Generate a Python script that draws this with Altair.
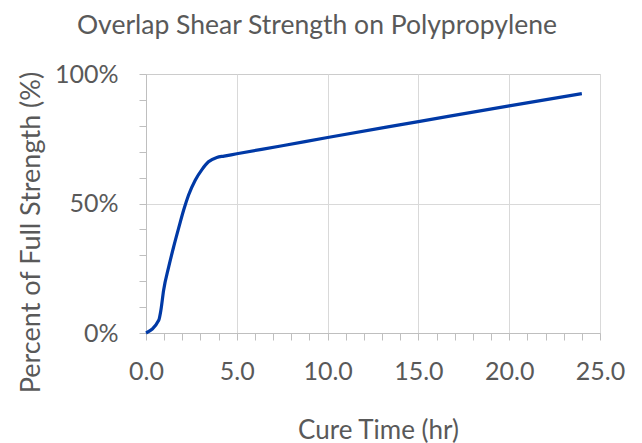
import altair as alt
import pandas as pd

# Data
hours = [0, 0.7, 0.82, 0.97, 1.25, 1.52, 1.79, 2.07, 2.34, 2.71, 3.08, 3.44, 3.9, 4.3, 5, 7.5, 10, 15, 20, 24]
strength = [0, 4.9, 8.8, 16.5, 25.5, 33.2, 40.3, 47.4, 53.2, 59.0, 63.1, 66.1, 67.8, 68.3, 69.2, 72.3, 75.5, 81.6, 87.7, 92.4]

x_tick_values = list(range(0, 26))
y_tick_values = list(range(0, 101, 10))

title_text = "Overlap Shear Strength on Polypropylene"
x_title = "Cure Time (hr)"
y_title = "Percent of Full Strength (%)"

df = pd.DataFrame({"hours": hours, "strength": strength})

FONT = "Lato"
GREY = "#595959"
AXIS_GREY = "#bfbfbf"
GRID_GREY = "#d9d9d9"

x_axis = alt.Axis(
    title=x_title,
    values=x_tick_values,
    labelExpr="datum.value % 5 === 0 ? format(datum.value, '.1f') : ''",
    labelOverlap=False,
    labelFlush=False,
    labelFont=FONT,
    labelFontSize=25,
    labelColor=GREY,
    labelBaseline="alphabetic",
    labelPadding=39,
    tickSize=7,
    tickColor=AXIS_GREY,
    domainColor=AXIS_GREY,
    gridColor=GRID_GREY,
    gridOpacity={"condition": {"test": "datum.value % 5 === 0", "value": 1}, "value": 0},
    titleFont=FONT,
    titleFontSize=26,
    titleFontWeight="normal",
    titleColor=GREY,
    titleX=232,
    titleY=105,
    titleAlign="center",
    titleBaseline="alphabetic",
)

y_axis = alt.Axis(
    title=y_title,
    values=y_tick_values,
    labelExpr="datum.value % 50 === 0 ? datum.value + '%' : ''",
    labelOverlap=False,
    labelFlush=False,
    labelFont=FONT,
    labelFontSize=25,
    labelColor=GREY,
    labelBaseline="middle",
    labelPadding=21,
    tickSize=7,
    tickColor=AXIS_GREY,
    domainColor=AXIS_GREY,
    gridColor=GRID_GREY,
    gridOpacity={"condition": {"test": "datum.value === 50", "value": 1}, "value": 0},
    titleFont=FONT,
    titleFontSize=27,
    titleFontWeight="normal",
    titleColor=GREY,
    titleX=-107,
    titleY=158,
    titleAlign="center",
    titleBaseline="alphabetic",
)

chart = (
    alt.Chart(df)
    .mark_line(color="#0039a6", strokeWidth=3.2, interpolate="monotone")
    .encode(
        x=alt.X("hours:Q", scale=alt.Scale(domain=[0, 25], nice=False), axis=x_axis),
        y=alt.Y("strength:Q", scale=alt.Scale(domain=[0, 100], nice=False), axis=y_axis),
    )
    .properties(
        width=454,
        height=259,
        title=alt.TitleParams(
            text=title_text,
            font=FONT,
            fontSize=26.5,
            fontWeight="normal",
            color=GREY,
            anchor="middle",
            frame="group",
            dx=-56,
            dy=26,
            baseline="alphabetic",
            offset=28,
        ),
        padding={"left": 138, "top": 66, "right": 34, "bottom": 110},
        autosize=alt.AutoSizeParams(type="none"),
    )
    .configure_view(stroke="#cccccc")
)

chart.save("out.html", embed_options={"renderer": "svg", "actions": False})
